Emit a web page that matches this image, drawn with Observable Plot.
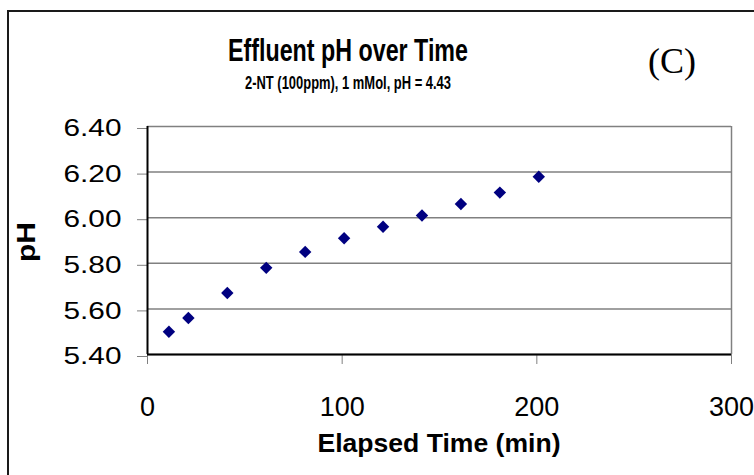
<!DOCTYPE html>
<html>
<head>
<meta charset="utf-8">
<script src="https://cdn.jsdelivr.net/npm/d3@7"></script>
<script src="https://cdn.jsdelivr.net/npm/@observablehq/plot@0.6"></script>
<style>
  html, body { margin: 0; padding: 0; background: #fff; }
  svg { display: block; }
</style>
</head>
<body>
<div id="chart"></div>
<script>
const title = "Effluent pH over Time";
const subtitle = "2-NT (100ppm), 1 mMol, pH = 4.43";
const panelTag = "(C)";
const xLabel = "Elapsed Time (min)";
const yLabel = "pH";

const times = [11, 21, 41, 61, 81, 101, 121, 141, 161, 181, 201];
const phValues = [5.50, 5.56, 5.67, 5.78, 5.85, 5.91, 5.96, 6.01, 6.06, 6.11, 6.18];
const xTicks = [0, 100, 200, 300];
const yTicks = [5.40, 5.60, 5.80, 6.00, 6.20, 6.40];

const data = times.map((t, i) => ({time: t, ph: phValues[i]}));

const W = 754, H = 475;
const mL = 147, mR = 23, mT = 126, mB = 121;

const chart = Plot.plot({
  width: W,
  height: H,
  marginLeft: mL,
  marginRight: mR,
  marginTop: mT,
  marginBottom: mB,
  style: {fontFamily: "'Liberation Sans', Arial, sans-serif", background: "#fff", color: "#000", overflow: "visible"},
  x: {domain: [xTicks[0], xTicks[xTicks.length - 1]]},
  y: {domain: [yTicks[0], yTicks[yTicks.length - 1]]},
  marks: [
    Plot.gridY(yTicks, {stroke: "#808080", strokeOpacity: 1, strokeWidth: 1.5}),
    Plot.ruleX([xTicks[xTicks.length - 1]], {stroke: "#808080", strokeWidth: 1.5}),
    Plot.axisY(yTicks, {tickSize: 10, tickPadding: 16, fontSize: 24, stroke: "#808080", fill: "#000",
      tickFormat: d => d.toFixed(2), label: null, dy: 2}),
    Plot.axisX(xTicks, {tickSize: 10, tickPadding: 32, fontSize: 27, stroke: "#808080", fill: "#000",
      tickFormat: d => String(d), label: null}),
    Plot.ruleX([xTicks[0]], {stroke: "#000", strokeWidth: 2}),
    Plot.ruleY([yTicks[0]], {stroke: "#000", strokeWidth: 2}),
    Plot.dot(data, {x: "time", y: "ph", symbol: "diamond2", r: 5.6, fill: "#000080", stroke: null})
  ]
});

const svg = d3.select(chart);

// stretch y tick labels to the reference width
svg.selectAll('g[aria-label="y-axis tick label"] text')
  .attr("textLength", 58).attr("lengthAdjust", "spacingAndGlyphs");

// outer chart-area border
svg.append("rect")
  .attr("x", 8).attr("y", 11).attr("width", W + 20).attr("height", H + 20)
  .attr("fill", "none").attr("stroke", "#1a1a1a").attr("stroke-width", 2);

const sans = "'Liberation Sans', Arial, sans-serif";

svg.append("text")
  .attr("x", 348).attr("y", 61).attr("text-anchor", "middle")
  .attr("font-family", sans).attr("font-weight", "bold").attr("font-size", 31)
  .attr("textLength", 240).attr("lengthAdjust", "spacingAndGlyphs")
  .text(title);

svg.append("text")
  .attr("x", 348).attr("y", 89).attr("text-anchor", "middle")
  .attr("font-family", sans).attr("font-weight", "bold").attr("font-size", 18)
  .attr("textLength", 206).attr("lengthAdjust", "spacingAndGlyphs")
  .text(subtitle);

svg.append("text")
  .attr("x", 672).attr("y", 73)
  .attr("font-family", "'Liberation Serif', 'Times New Roman', serif").attr("font-size", 36)
  .text(panelTag);

svg.append("text")
  .attr("x", (mL + W - mR) / 2).attr("y", 452).attr("text-anchor", "middle")
  .attr("font-family", sans).attr("font-weight", "bold").attr("font-size", 26)
  .attr("textLength", 243).attr("lengthAdjust", "spacingAndGlyphs")
  .text(xLabel);

svg.append("text")
  .attr("transform", "translate(35,242) rotate(-90)").attr("text-anchor", "middle")
  .attr("font-family", sans).attr("font-weight", "bold").attr("font-size", 26)
  .attr("textLength", 40).attr("lengthAdjust", "spacingAndGlyphs")
  .text(yLabel);

document.getElementById("chart").appendChild(chart);
</script>
</body>
</html>
